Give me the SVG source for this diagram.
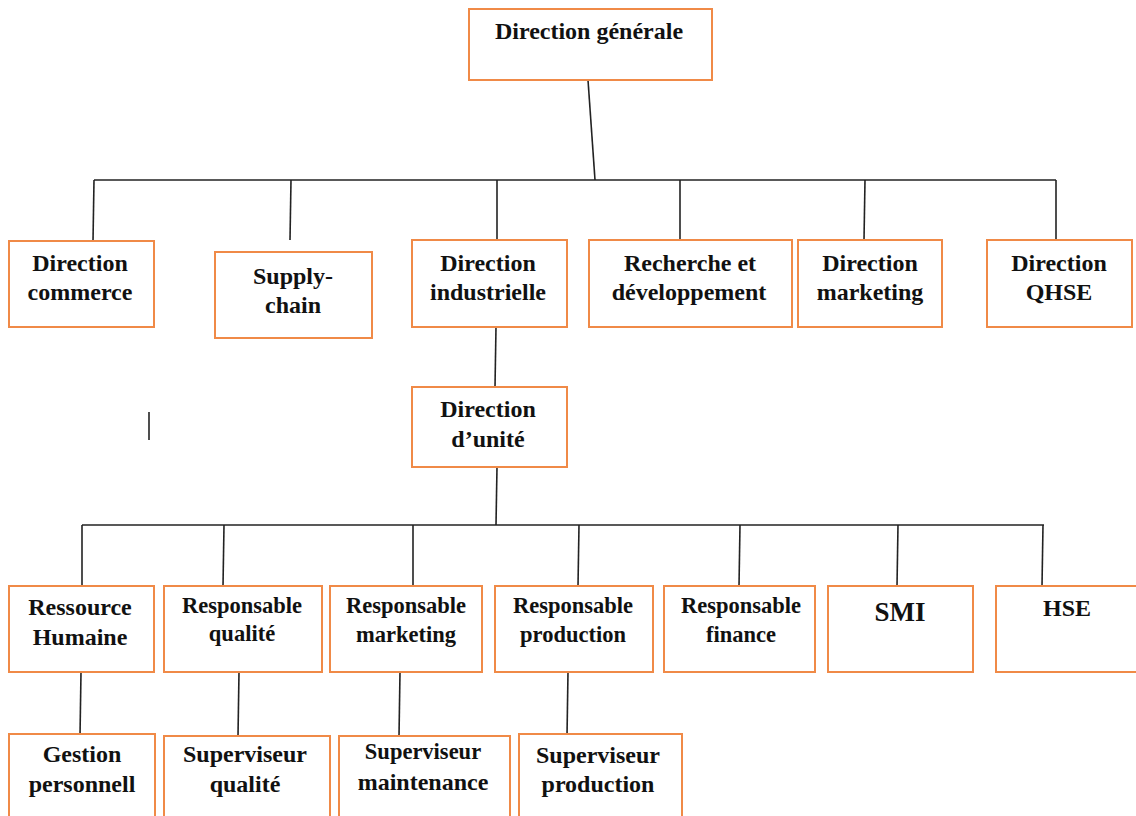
<svg xmlns="http://www.w3.org/2000/svg" width="1136" height="816" viewBox="0 0 1136 816">
<style>
.box{fill:#fff;stroke:#F08A47;stroke-width:2}
.ln{stroke:#222;stroke-width:1.6;fill:none}
text{font-family:"Liberation Serif","Times New Roman",serif;font-weight:bold;font-size:24px;fill:#111;text-anchor:middle}
.r{font-size:22.5px}
</style>
<rect width="1136" height="816" fill="#fff"/>
<g id="connectors" class="ln">
<path d="M588 80 L595 180"/>
<path d="M94 180 H1056"/>
<path d="M94 180 L93 241"/>
<path d="M291 180 L290 240"/>
<path d="M497 180 V240"/>
<path d="M680 180 V240"/>
<path d="M865 180 L864 240"/>
<path d="M1056 180 V240"/>
<path d="M496 327 L495 387"/>
<path d="M497 467 L496 525"/>
<path d="M82 525 H1044"/>
<path d="M82 525 V586"/>
<path d="M224 525 L223 586"/>
<path d="M413 525 V586"/>
<path d="M579 525 L578 586"/>
<path d="M740 525 L739 586"/>
<path d="M898 525 L897 586"/>
<path d="M1043 525 L1042 586"/>
<path d="M81 672 L80 736"/>
<path d="M239 672 L238 736"/>
<path d="M400 672 L399 736"/>
<path d="M568 672 L567 736"/>
<path d="M149 412 V440"/>
</g>
<g id="dg"><rect class="box" x="469" y="9" width="243" height="71"/><text x="589" y="39">Direction générale</text></g>
<g id="dcom"><rect class="box" x="9" y="241" width="145" height="86"/><text x="80" y="271">Direction</text><text x="80" y="300">commerce</text></g>
<g id="supply"><rect class="box" x="215" y="252" width="157" height="86"/><text x="293" y="284">Supply-</text><text x="293" y="313">chain</text></g>
<g id="dind"><rect class="box" x="412" y="240" width="155" height="87"/><text x="488" y="271">Direction</text><text x="488" y="300">industrielle</text></g>
<g id="rd"><rect class="box" x="589" y="240" width="203" height="87"/><text x="690" y="271">Recherche et</text><text x="689" y="300">développement</text></g>
<g id="dmkt"><rect class="box" x="798" y="240" width="144" height="87"/><text x="870" y="271">Direction</text><text x="870" y="300">marketing</text></g>
<g id="dqhse"><rect class="box" x="987" y="240" width="145" height="87"/><text x="1059" y="271">Direction</text><text x="1059" y="300">QHSE</text></g>
<g id="dunite"><rect class="box" x="412" y="387" width="155" height="80"/><text x="488" y="417">Direction</text><text x="488" y="447">d’unité</text></g>
<g id="rh"><rect class="box" x="9" y="586" width="145" height="86"/><text x="80" y="615">Ressource</text><text x="80" y="645">Humaine</text></g>
<g id="rq"><rect class="box" x="164" y="586" width="158" height="86"/><text class="r" x="242" y="613">Responsable</text><text class="r" x="242" y="641">qualité</text></g>
<g id="rm"><rect class="box" x="330" y="586" width="152" height="86"/><text class="r" x="406" y="613">Responsable</text><text class="r" x="406" y="642">marketing</text></g>
<g id="rp"><rect class="box" x="495" y="586" width="158" height="86"/><text class="r" x="573" y="613">Responsable</text><text class="r" x="573" y="642">production</text></g>
<g id="rf"><rect class="box" x="664" y="586" width="151" height="86"/><text class="r" x="741" y="613">Responsable</text><text class="r" x="741" y="642">finance</text></g>
<g id="smi"><rect class="box" x="828" y="586" width="145" height="86"/><text x="900" y="621" style="font-size:27px">SMI</text></g>
<g id="hse"><rect class="box" x="996" y="586" width="142" height="86"/><text x="1067" y="616">HSE</text></g>
<g id="gp"><rect class="box" x="9" y="734" width="146" height="90"/><text x="82" y="762">Gestion</text><text x="82" y="792">personnell</text></g>
<g id="sq"><rect class="box" x="164" y="736" width="166" height="90"/><text x="245" y="762">Superviseur</text><text x="245" y="792">qualité</text></g>
<g id="sm"><rect class="box" x="339" y="736" width="171" height="90"/><text x="423" y="759" class="r">Superviseur</text><text x="423" y="790">maintenance</text></g>
<g id="sp"><rect class="box" x="519" y="734" width="163" height="90"/><text x="598" y="763">Superviseur</text><text x="598" y="792">production</text></g>
</svg>
